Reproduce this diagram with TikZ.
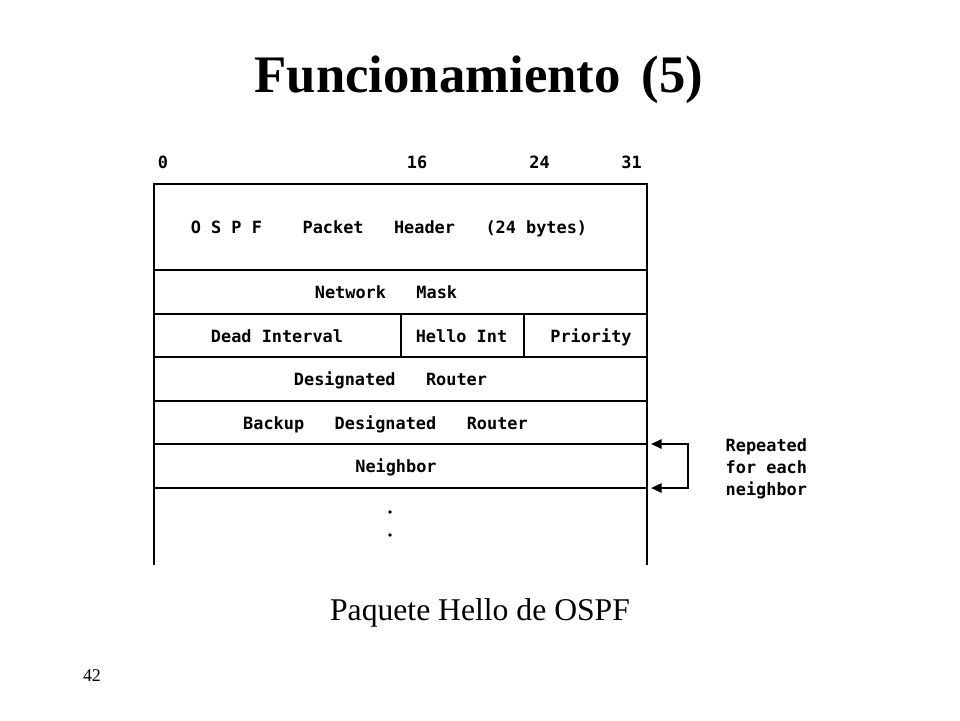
\documentclass[tikz,border=0pt]{standalone}
\usepackage{fontspec}
\setmainfont{Liberation Serif}
\setmonofont{DejaVu Sans Mono}
\usetikzlibrary{arrows.meta}
\tikzset{
	field/.style={font=\fontsize{4.8}{5.8}\selectfont\ttfamily\bfseries, inner sep=0pt, text height=3.5pt, text depth=0pt},
	frame/.style={line width=0.6pt, color=black},
	repeat/.style={line width=0.6pt, {Triangle[length=3pt,width=2.6pt]}-{Triangle[length=3pt,width=2.6pt]}},
}

\begin{document}
\begin{tikzpicture}[x=0.01cm, y=-0.01cm]
			%%%%% START %%%%%
			\useasboundingbox (0, 0) rectangle (960, 720);
			
			\node[font=\fontsize{15}{18}\selectfont\bfseries, anchor=base, inner sep=0pt] (title) at (479, 92) {Funcionamiento\hspace{0.4em}(5)};
			
			\node[field] (bit0) at (163, 162.5) {0};
			\node[field] (bit16) at (417, 162.5) {16};
			\node[field] (bit24) at (539.5, 162.5) {24};
			\node[field] (bit31) at (631.5, 162.5) {31};
			
			\draw[frame] (154, 565) -- (154, 184) -- (647, 184) -- (647, 565);
			\foreach \y in {270, 314, 357, 401, 444, 488}
				\draw[frame] (154, \y) -- (647, \y);
			\draw[frame] (401, 314) -- (401, 357);
			\draw[frame] (524, 314) -- (524, 357);
			
			\node[field] (header) at (389, 227.5) {O~S~P~F~~~~Packet~~~Header~~~(24~bytes)};
			\node[field] (mask) at (386, 292.5) {Network~~~Mask};
			\node[field] (dead) at (277, 336) {Dead~Interval};
			\node[field] (hello) at (461.5, 336) {Hello~Int};
			\node[field] (prio) at (591, 336) {Priority};
			\node[field] (dr) at (390.5, 379.5) {Designated~~~Router};
			\node[field] (bdr) at (385.5, 423) {Backup~~~Designated~~~Router};
			\node[field] (nbr) at (396, 466.5) {Neighbor};
			
			\fill (390, 512) circle (1.8);
			\fill (390, 535) circle (1.8);
			
			\coordinate (ret top) at (651, 444);
			\coordinate (ret bot) at (651, 488);
			\coordinate (turn top) at (688, 444);
			\coordinate (turn bot) at (688, 488);
			\draw[repeat] (ret top) -- (turn top) -- (turn bot) -- (ret bot);
			
			\node[field, anchor=west] (note1) at (725, 445) {Repeated};
			\node[field, anchor=west] (note2) at (725, 467) {for~each};
			\node[field, anchor=west] (note3) at (725, 489) {neighbor};
			
			\node[font=\fontsize{9}{11}\selectfont, anchor=base, inner sep=0pt] (caption) at (480, 620) {Paquete Hello de OSPF};
			\node[font=\fontsize{5.1}{6}\selectfont, anchor=base, inner sep=0pt] (page) at (92, 681) {42};
			
			%%%%% END %%%%%
\end{tikzpicture}
\end{document}
